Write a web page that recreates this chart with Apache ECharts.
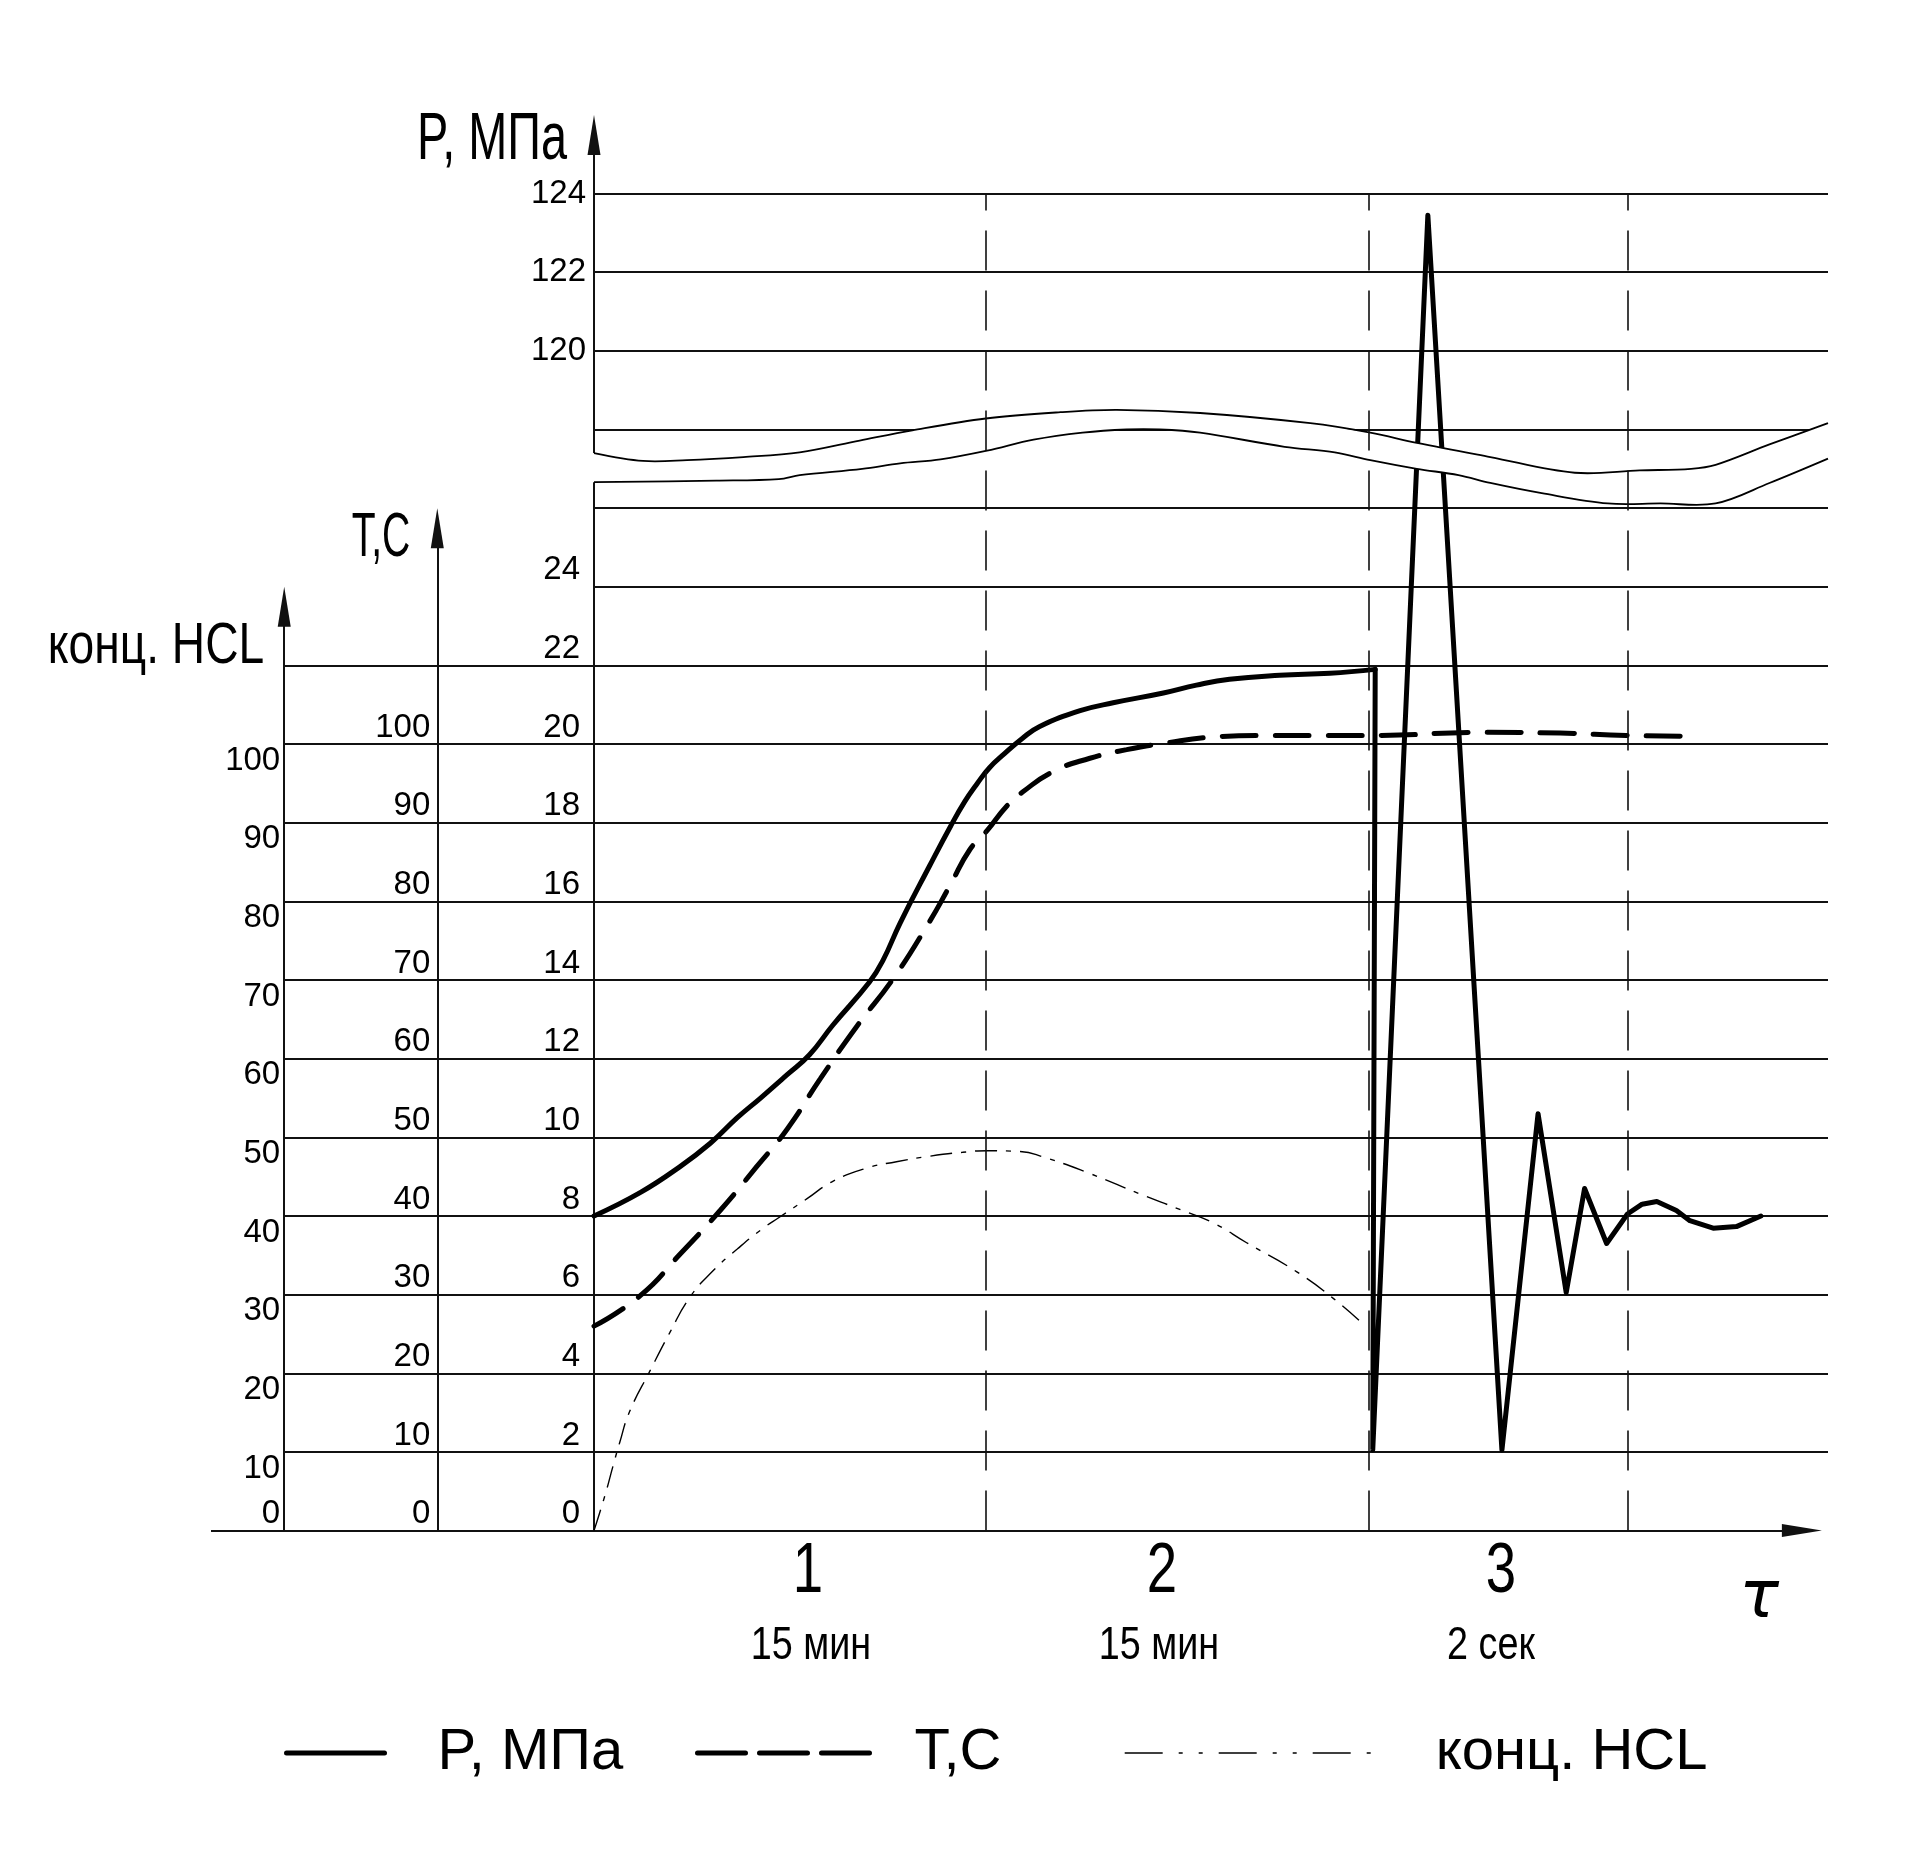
<!DOCTYPE html>
<html>
<head>
<meta charset="utf-8">
<title>P, T, конц. HCL</title>
<script src="https://cdn.jsdelivr.net/npm/echarts@6/dist/echarts.min.js"></script>
<style>
  html, body { margin: 0; padding: 0; background: #fff; }
  #chart { width: 1920px; height: 1861px; }
</style>
</head>
<body>
<div id="chart"></div>
<script>
// время — условные единицы по оси τ (границы этапов)
const stageBounds = [32.0, 63.3, 84.4]
const stageNames = ['1', '2', '3']
const stageDurations = ['15 мин', '15 мин', '2 сек']

// давление, МПа — нагрев и выдержка (этапы 1–2)
const pRiseTime = [0, 3.8, 7.0, 9.5, 11.7, 13.6, 15.8, 17.6, 19.5, 22.5, 23.6, 25.0, 27.4, 29.1, 30.3, 31.3, 32.3, 33.5, 35.0, 36.4, 39.7, 42.4, 46.5, 49.2, 51.9, 56.0, 60.1, 63.8]
const pRiseValue = [8.0, 8.6, 9.25, 9.85, 10.5, 11.0, 11.6, 12.1, 12.85, 13.95, 14.5, 15.45, 16.9, 17.9, 18.55, 19.0, 19.4, 19.75, 20.15, 20.45, 20.85, 21.05, 21.3, 21.5, 21.65, 21.75, 21.8, 21.9]
// давление, МПа — сброс и скачок (этап 3)
const pShockTime = [63.8, 63.6, 68.1, 74.15, 77.1, 79.4, 80.9, 82.7, 84.4, 85.6, 86.8, 88.4, 89.5, 91.4, 93.3, 95.3]
const pShockValue = [21.9, 2.05, 123.45, 2.05, 10.6, 6.05, 8.7, 7.3, 8.05, 8.3, 8.37, 8.14, 7.88, 7.69, 7.73, 8.0]

// температура, °C
const tTime = [0, 3.8, 7.0, 10.3, 13.3, 15.8, 18.5, 21.5, 24.4, 27.2, 29.1, 30.7, 32.1, 33.7, 35.0, 37.5, 40.5, 43.5, 46.5, 50.6, 54.6, 58.7, 63.6, 72.6, 78.9, 84.3, 89.1]
const tValue = [26, 29.9, 35.1, 40.7, 46.3, 51.1, 57.5, 64.2, 70.1, 76.9, 82.1, 86.6, 89.0, 92.1, 93.9, 96.5, 98.2, 99.3, 100.1, 100.9, 101.1, 101.1, 101.1, 101.5, 101.4, 101.1, 101.0]

// концентрация HCL
const hclTime = [0, 0.9, 1.55, 2.1, 2.9, 4.6, 6.2, 7.8, 9.7, 11.7, 13.6, 15.2, 17.4, 19.5, 22.3, 24.7, 27.4, 30.1, 32.1, 34.8, 36.7, 40.5, 44.6, 47.9, 50.6, 53.3, 57.4, 60.4, 63.0]
const hclValue = [0, 4.5, 8.2, 11.2, 15.1, 20.4, 25.2, 29.6, 33.0, 35.8, 38.2, 39.9, 42.2, 44.4, 46.1, 46.9, 47.6, 48.1, 48.3, 48.2, 47.5, 45.4, 42.8, 40.8, 39.1, 36.6, 32.9, 29.5, 26.0]

// подписи шкал
const pTicksLow = [0, 2, 4, 6, 8, 10, 12, 14, 16, 18, 20, 22, 24]
const pTicksHigh = [120, 122, 124]
const tTicks = [0, 10, 20, 30, 40, 50, 60, 70, 80, 90, 100]
const hclTicks = [10, 20, 30, 40, 50, 60, 70, 80, 90, 100]

// разрыв шкалы давления (волнистая полоса), в клетках сетки
const breakTopX = [0, 4.0, 7.6, 12.2, 16.8, 21.7, 26.0, 32.0, 38.1, 42.7, 49.5, 58.5, 63.4, 67.2, 73.2, 80.1, 85.4, 89.6, 91.6, 96.0, 100.78]
const breakTopU = [13.70, 13.60, 13.61, 13.65, 13.71, 13.86, 13.99, 14.14, 14.22, 14.25, 14.21, 14.08, 13.96, 13.83, 13.65, 13.45, 13.48, 13.50, 13.55, 13.81, 14.08]
const breakBottomX = [0, 10.0, 15.1, 16.8, 21.9, 25.0, 28.3, 32.1, 35.9, 39.9, 43.5, 46.2, 49.5, 56.4, 60.5, 63.4, 67.2, 70.6, 73.2, 77.4, 82.8, 87.1, 91.6, 96.0, 100.78]
const breakBottomU = [13.33, 13.35, 13.37, 13.42, 13.50, 13.57, 13.62, 13.73, 13.87, 13.96, 14.00, 14.00, 13.96, 13.78, 13.71, 13.61, 13.50, 13.42, 13.32, 13.19, 13.06, 13.06, 13.06, 13.32, 13.63]

const FONT = '"Liberation Sans", Arial, sans-serif'
const X_MIN = -31.28
const X_MAX = 100.78
const T_AXIS_X = -12.8
const HCL_AXIS_X = -25.3

// шкала давления с разрывом: 0..26 внизу, 118..124 вверху
const toGridP = (p) => (p <= 26 ? p / 2 : 14 + (p - 118) / 2)
const toGridTen = (v) => v / 10
const pairs = (xs, ys, f) => xs.map((x, i) => [x, f(ys[i])])

const tickLabel = (ticks, f) => (u) => {
  const t = ticks.find(v => Math.abs(f(v) - u) < 1e-6)
  return t === undefined ? '' : String(t)
}

// узкий чертёжный шрифт имитируем сжатием по горизонтали
const label = (text, x, y, fontSize, scaleX, extra) => ({
  type: 'text',
  x,
  y,
  scaleX,
  style: {
    text,
    fontSize,
    fontFamily: FONT,
    fill: '#000',
    align: 'center',
    verticalAlign: 'middle',
    textAlign: 'center',
    textVerticalAlign: 'middle',
    ...extra
  }
})

const yBase = {
  type: 'value',
  min: 0,
  max: 18,
  interval: 1,
  position: 'left',
  axisLine: { show: false, onZero: false },
  axisTick: { show: false },
  splitLine: { show: false }
}
const labelBase = { fontSize: 33, fontFamily: FONT, color: '#000', showMinLabel: true, showMaxLabel: true }

// горизонтальная сетка и оси
const gridLines = []
for (let u = 1; u <= 17; u++) {
  gridLines.push([{ coord: [u <= 11 ? HCL_AXIS_X : 0, u] }, { coord: [X_MAX, u] }])
}
const arrowEnd = (coord) => ({ coord, symbol: 'triangle', symbolSize: [13, 40], lineStyle: { width: 2 } })
const axisLines = [
  [{ coord: [X_MIN, 0] }, arrowEnd([100.28 - 20 / 12.244, 0])],
  [{ coord: [0, 0] }, arrowEnd([0, 18 - 20 / 78.65])],
  [{ coord: [T_AXIS_X, 0] }, arrowEnd([T_AXIS_X, 13 - 20 / 78.65])],
  [{ coord: [HCL_AXIS_X, 0] }, arrowEnd([HCL_AXIS_X, 12 - 20 / 78.65])]
]

const legendBase = {
  top: 1724,
  padding: 0,
  itemHeight: 20,
  selectedMode: false,
  itemStyle: { opacity: 0 }
}
const legendText = (pad) => ({ fontSize: 58, fontFamily: FONT, color: '#000', padding: [0, 0, 0, pad] })

const chart = echarts.init(document.getElementById('chart'))

const option = {
  backgroundColor: '#fff',
  animation: false,
  grid: {
    left: 211,
    right: 92,
    top: 114.9,
    bottom: 330.4,
    containLabel: false,
    outerBoundsMode: 'none'
  },
  xAxis: {
    type: 'value',
    min: X_MIN,
    max: X_MAX,
    axisLine: { show: false, onZero: false },
    axisTick: { show: false },
    axisLabel: { show: false },
    splitLine: { show: false }
  },
  yAxis: [
    { ...yBase, offset: -383, axisLabel: { ...labelBase, formatter: tickLabel(pTicksLow, toGridP), verticalAlign: 'bottom', margin: 14 } },
    { ...yBase, offset: -383, axisLabel: { ...labelBase, formatter: tickLabel(pTicksHigh, toGridP), verticalAlign: 'middle', margin: 8 } },
    { ...yBase, offset: -226.3, axisLabel: { ...labelBase, formatter: tickLabel(tTicks, toGridTen), verticalAlign: 'bottom', margin: 7 } },
    { ...yBase, offset: -73.2, axisLabel: { ...labelBase, formatter: tickLabel(hclTicks, toGridTen), verticalAlign: 'top', margin: 4 } },
    { ...yBase, offset: -73.2, axisLabel: { ...labelBase, formatter: tickLabel([0], toGridTen), verticalAlign: 'bottom', margin: 4 } }
  ],
  legend: [
    { ...legendBase, data: ['P, МПа'], left: 284, itemWidth: 98, textStyle: legendText(48), lineStyle: { width: 5, type: 'solid' } },
    { ...legendBase, data: ['T,C'], left: 695, itemWidth: 172, textStyle: legendText(40), lineStyle: { width: 5, type: [48, 14] } },
    { ...legendBase, data: ['конц. HCL'], left: 1124, itemWidth: 254, textStyle: legendText(52), lineStyle: { width: 1.4, type: [38, 16, 4, 16, 4, 16] } }
  ],
  graphic: [
    label('P, МПа', 492, 141, 66, 0.71),
    label('T,C', 381, 539, 63, 0.62),
    label('конц. HCL', 156, 647, 57, 0.81),
    ...[808, 1162, 1501].map((x, i) => label(stageNames[i], x, 1573, 70, 0.78)),
    ...[811, 1159, 1491].map((x, i) => label(stageDurations[i], x, 1646, 46, 0.82)),
    label('τ', 1759, 1600, 66, 1, { fontStyle: 'italic', fontFamily: '"DejaVu Sans", sans-serif' })
  ],
  series: [
    {
      name: 'grid',
      type: 'line',
      data: [],
      silent: true,
      markLine: {
        silent: true,
        z: 1,
        symbol: ['none', 'none'],
        label: { show: false },
        lineStyle: { color: '#111', width: 1.8, type: 'solid' },
        data: [...gridLines, ...axisLines]
      }
    },
    {
      name: 'P, МПа',
      type: 'line',
      z: 3,
      data: pairs(pRiseTime, pRiseValue, toGridP),
      symbol: 'none',
      smooth: 0.45,
      itemStyle: { color: '#000' },
      lineStyle: { color: '#000', width: 5, cap: 'round', join: 'round' }
    },
    {
      name: 'P, МПа',
      type: 'line',
      z: 3,
      data: pairs(pShockTime, pShockValue, toGridP),
      symbol: 'none',
      smooth: false,
      itemStyle: { color: '#000' },
      lineStyle: { color: '#000', width: 5, cap: 'round', join: 'round' }
    },
    {
      name: 'T,C',
      type: 'line',
      z: 3,
      data: pairs(tTime, tValue, toGridTen),
      symbol: 'none',
      smooth: 0.5,
      itemStyle: { color: '#000' },
      lineStyle: { color: '#000', width: 5, type: [34, 19], cap: 'round' }
    },
    {
      name: 'конц. HCL',
      type: 'line',
      z: 3,
      data: pairs(hclTime, hclValue, toGridTen),
      symbol: 'none',
      smooth: 0.5,
      itemStyle: { color: '#000' },
      lineStyle: { color: '#000', width: 1.4, type: [22, 9, 5, 9] }
    },
    {
      // волнистый разрыв шкалы давления
      name: 'break',
      type: 'custom',
      z: 4,
      silent: true,
      data: [[0, 0]],
      renderItem: (params, api) => {
        const top = breakTopX.map((x, i) => api.coord([x, breakTopU[i]]))
        const bottom = breakBottomX.map((x, i) => api.coord([x, breakBottomU[i]]))
        const fill = [api.coord([-0.2, breakTopU[0]]), ...top, ...bottom.slice().reverse(), api.coord([-0.2, breakBottomU[0]])]
        return {
          type: 'group',
          children: [
            { type: 'polygon', shape: { points: fill }, style: { fill: '#fff', stroke: null } },
            { type: 'polyline', shape: { points: top, smooth: 0.35 }, style: { stroke: '#000', lineWidth: 1.8, fill: null } },
            { type: 'polyline', shape: { points: bottom, smooth: 0.35 }, style: { stroke: '#000', lineWidth: 1.8, fill: null } }
          ]
        }
      }
    },
    {
      name: 'stages',
      type: 'line',
      data: [],
      silent: true,
      markLine: {
        silent: true,
        z: 6,
        symbol: ['none', 'none'],
        label: { show: false },
        lineStyle: { color: '#111', width: 1.6, type: [40, 20] },
        data: stageBounds.map(x => [{ coord: [x, 0] }, { coord: [x, 17] }])
      }
    }
  ]
}

chart.setOption(option)
</script>
</body>
</html>
